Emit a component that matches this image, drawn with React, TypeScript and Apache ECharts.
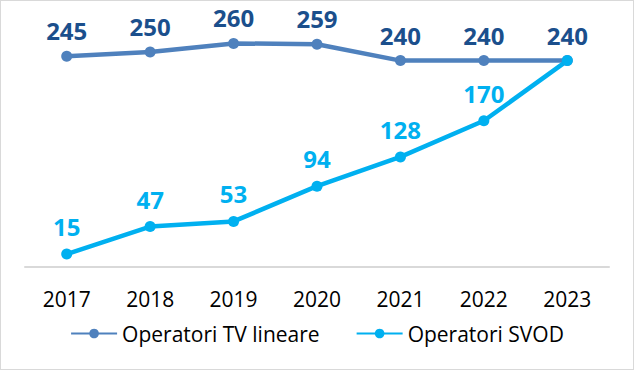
import React, { useEffect, useRef } from "react";
import * as echarts from "echarts";

const years = ["2017", "2018", "2019", "2020", "2021", "2022", "2023"];
const tvLineare = [245, 250, 260, 259, 240, 240, 240];
const svod = [15, 47, 53, 94, 128, 170, 240];
const seriesNames = ["Operatori TV lineare", "Operatori SVOD"];

const FONT = "'Open Sans', 'Noto Sans', sans-serif";

export default function App() {
  const ref = useRef<HTMLDivElement>(null);
  useEffect(() => {
    if (!ref.current) return;
    const chart = echarts.init(ref.current, undefined, { renderer: "svg" });
    const last = svod.length - 1;
    chart.setOption({
      animation: false,
      grid: { left: 24, right: 24, top: 8, bottom: 102, containLabel: false },
      legend: {
        data: seriesNames,
        bottom: 20,
        left: "center",
        itemWidth: 46,
        itemHeight: 12,
        itemGap: 36,
        textStyle: { fontFamily: FONT, fontSize: 21, color: "#000" },
      },
      xAxis: {
        type: "category",
        data: years,
        boundaryGap: true,
        axisLine: { lineStyle: { color: "#d9d9d9", width: 2 } },
        axisTick: { show: false },
        axisLabel: { fontFamily: FONT, fontSize: 21, color: "#000", margin: 21 },
      },
      yAxis: {
        type: "value",
        min: 0,
        max: 300,
        show: false,
        splitLine: { show: false },
      },
      series: [
        {
          name: seriesNames[0],
          type: "line",
          data: tvLineare,
          symbol: "circle",
          symbolSize: 11,
          lineStyle: { color: "#4F81BD", width: 4.5 },
          itemStyle: { color: "#4F81BD" },
          label: {
            show: true,
            position: "top",
            distance: 8,
            fontFamily: FONT,
            fontWeight: "bold",
            fontSize: 24,
            color: "#1B4F8C",
          },
        },
        {
          name: seriesNames[1],
          type: "line",
          data: svod,
          symbol: "circle",
          symbolSize: 11,
          lineStyle: { color: "#00B0F0", width: 4.5 },
          itemStyle: { color: "#00B0F0" },
          label: {
            show: true,
            position: "top",
            distance: 10,
            fontFamily: FONT,
            fontWeight: "bold",
            fontSize: 24,
            color: "#00B0F0",
            formatter: (p: any) => (p.dataIndex === last ? "" : String(p.value)),
          },
        },
      ],
    });
    return () => chart.dispose();
  }, []);
  return (
    <div
      style={{
        position: "absolute",
        left: 0,
        top: 0,
        width: 634,
        height: 370,
        boxSizing: "border-box",
        border: "1px solid #d9d9d9",
        background: "#fff",
      }}
    >
      <div ref={ref} style={{ width: 632, height: 368 }} />
    </div>
  );
}
